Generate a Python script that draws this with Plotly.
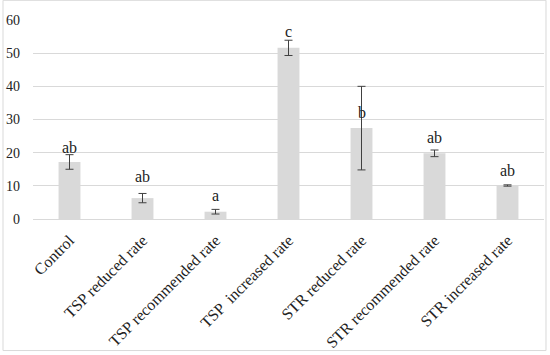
import plotly.graph_objects as go

categories = ["Control", "TSP reduced rate", "TSP recommended rate", "TSP  increased rate",
              "STR reduced rate", "STR recommended rate", "STR increased rate"]
values = [17.2, 6.3, 2.2, 51.6, 27.4, 19.8, 10.1]
errors = [2.2, 1.4, 0.7, 2.3, 12.6, 1.0, 0.2]
letters = ["ab", "ab", "a", "c", "b", "ab", "ab"]
label_y = [19.7, 11.0, 5.1, 54.6, 30.3, 22.7, 12.7]
y_ticks = [0, 10, 20, 30, 40, 50, 60]

FONT = "Liberation Serif"
GRID = "#d9d9d9"

fig = go.Figure()
fig.add_trace(go.Bar(
    x=categories, y=values,
    marker=dict(color="#d9d9d9", line=dict(width=0)),
    error_y=dict(type="data", array=errors, visible=True,
                 color="#404040", thickness=1, width=4),
    width=0.3,
    hoverinfo="skip",
))

for c, t, ly in zip(categories, letters, label_y):
    fig.add_annotation(x=c, y=ly, text=t, showarrow=False, yanchor="bottom",
                       yshift=-4, font=dict(family=FONT, size=16, color="#222"))

fig.update_layout(
    width=550, height=355,
    margin=dict(l=33, r=6, t=20, b=136, autoexpand=False),
    paper_bgcolor="white", plot_bgcolor="white",
    showlegend=False,
    font=dict(family=FONT, size=14, color="#222"),
    xaxis=dict(tickangle=-45, showgrid=False, showline=False, ticks="",
               ticklabelstandoff=8, automargin=False,
               tickfont=dict(family=FONT, size=16, color="#222")),
    yaxis=dict(range=[0, 60], tickvals=y_ticks, showgrid=True, gridcolor=GRID,
               gridwidth=1, zeroline=True, zerolinecolor=GRID, zerolinewidth=1,
               showline=False, ticks="", ticklabelstandoff=12, automargin=False,
               tickfont=dict(family=FONT, size=14, color="#222")),
    shapes=[dict(type="rect", xref="paper", yref="paper",
                 x0=-0.0587, x1=1.0039, y0=-0.661, y1=1.099,
                 line=dict(color=GRID, width=1), fillcolor="rgba(0,0,0,0)")],
)

fig.write_html("out.html", config={"displayModeBar": False},
               post_script="document.body.style.margin='0';")
